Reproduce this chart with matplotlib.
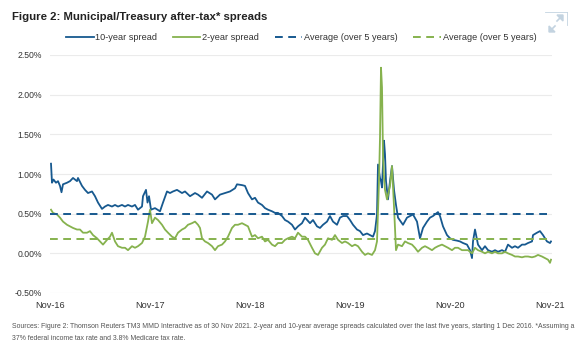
import matplotlib
matplotlib.use("Agg")
import matplotlib.pyplot as plt
from matplotlib.lines import Line2D

# time as decimal years (Nov-16 ... Nov-21), spreads in %
ten_year_t = [
    2016.925, 2016.935, 2016.950, 2016.975, 2016.995, 2017.015, 2017.030, 2017.045, 2017.085, 2017.115,
    2017.145, 2017.185, 2017.195, 2017.235, 2017.265, 2017.295, 2017.335, 2017.365, 2017.395, 2017.435,
    2017.465, 2017.495, 2017.535, 2017.565, 2017.595, 2017.635, 2017.665, 2017.695, 2017.735, 2017.765,
    2017.795, 2017.835, 2017.845, 2017.875, 2017.890, 2017.905, 2017.925, 2017.965, 2018.015, 2018.045,
    2018.085, 2018.115, 2018.145, 2018.185, 2018.235, 2018.265, 2018.315, 2018.365, 2018.395, 2018.435,
    2018.485, 2018.535, 2018.565, 2018.615, 2018.665, 2018.715, 2018.765, 2018.785, 2018.835, 2018.865,
    2018.895, 2018.935, 2018.965, 2018.995, 2019.035, 2019.065, 2019.095, 2019.135, 2019.165, 2019.195,
    2019.235, 2019.265, 2019.295, 2019.335, 2019.365, 2019.395, 2019.435, 2019.465, 2019.515, 2019.545,
    2019.585, 2019.615, 2019.645, 2019.685, 2019.715, 2019.745, 2019.785, 2019.815, 2019.845, 2019.885,
    2019.915, 2019.945, 2019.985, 2020.015, 2020.045, 2020.085, 2020.115, 2020.145, 2020.165, 2020.185,
    2020.195, 2020.215, 2020.225, 2020.235, 2020.255, 2020.265, 2020.275, 2020.295, 2020.315, 2020.335,
    2020.355, 2020.375, 2020.395, 2020.445, 2020.485, 2020.515, 2020.545, 2020.585, 2020.615, 2020.645,
    2020.685, 2020.715, 2020.745, 2020.785, 2020.795, 2020.815, 2020.845, 2020.885, 2020.915, 2020.945,
    2020.985, 2021.015, 2021.045, 2021.085, 2021.115, 2021.135, 2021.145, 2021.165, 2021.185, 2021.195,
    2021.235, 2021.265, 2021.295, 2021.335, 2021.365, 2021.395, 2021.435, 2021.465, 2021.495, 2021.535,
    2021.565, 2021.595, 2021.635, 2021.665, 2021.695, 2021.735, 2021.745, 2021.785, 2021.815, 2021.845,
    2021.885, 2021.915, 2021.925,
]
ten_year = [
    1.13, 0.89, 0.93, 0.89, 0.91, 0.85, 0.77, 0.87, 0.89, 0.91,
    0.95, 0.91, 0.95, 0.85, 0.80, 0.76, 0.78, 0.72, 0.64, 0.56,
    0.59, 0.61, 0.59, 0.61, 0.59, 0.61, 0.59, 0.61, 0.59, 0.61,
    0.55, 0.59, 0.72, 0.80, 0.64, 0.72, 0.55, 0.57, 0.53, 0.64,
    0.78, 0.76, 0.78, 0.80, 0.76, 0.78, 0.72, 0.76, 0.74, 0.70,
    0.78, 0.74, 0.68, 0.74, 0.76, 0.78, 0.82, 0.87, 0.86, 0.85,
    0.76, 0.68, 0.70, 0.64, 0.61, 0.57, 0.55, 0.53, 0.51, 0.51,
    0.47, 0.42, 0.40, 0.36, 0.30, 0.34, 0.38, 0.45, 0.38, 0.42,
    0.34, 0.32, 0.36, 0.40, 0.47, 0.40, 0.36, 0.45, 0.47, 0.47,
    0.42, 0.36, 0.30, 0.28, 0.23, 0.25, 0.23, 0.21, 0.28, 0.49,
    1.12, 0.95, 0.91, 0.83, 1.42, 1.25, 0.91, 0.68, 0.91, 1.10,
    0.80, 0.61, 0.45, 0.36, 0.45, 0.47, 0.49, 0.40, 0.19, 0.32,
    0.40, 0.45, 0.47, 0.51, 0.52, 0.47, 0.34, 0.23, 0.19, 0.17,
    0.16, 0.15, 0.13, 0.11, 0.04, -0.06, 0.15, 0.30, 0.17, 0.11,
    0.04, 0.09, 0.04, 0.02, 0.04, 0.02, 0.04, 0.02, 0.11, 0.07,
    0.09, 0.07, 0.11, 0.11, 0.13, 0.15, 0.23, 0.26, 0.28, 0.23,
    0.15, 0.13, 0.15,
]

two_year_t = [
    2016.925, 2016.945, 2016.985, 2017.015, 2017.045, 2017.085, 2017.115, 2017.145, 2017.185, 2017.215,
    2017.245, 2017.285, 2017.315, 2017.345, 2017.385, 2017.415, 2017.445, 2017.485, 2017.515, 2017.535,
    2017.565, 2017.595, 2017.635, 2017.665, 2017.695, 2017.735, 2017.765, 2017.795, 2017.835, 2017.865,
    2017.895, 2017.915, 2017.935, 2017.965, 2017.995, 2018.035, 2018.065, 2018.095, 2018.135, 2018.165,
    2018.195, 2018.235, 2018.265, 2018.295, 2018.335, 2018.365, 2018.395, 2018.415, 2018.435, 2018.465,
    2018.495, 2018.535, 2018.565, 2018.595, 2018.635, 2018.665, 2018.695, 2018.735, 2018.765, 2018.795,
    2018.835, 2018.865, 2018.895, 2018.935, 2018.965, 2018.995, 2019.035, 2019.065, 2019.095, 2019.135,
    2019.165, 2019.195, 2019.235, 2019.265, 2019.295, 2019.335, 2019.365, 2019.395, 2019.435, 2019.465,
    2019.495, 2019.535, 2019.565, 2019.595, 2019.635, 2019.665, 2019.695, 2019.735, 2019.765, 2019.795,
    2019.835, 2019.865, 2019.895, 2019.935, 2019.965, 2019.995, 2020.035, 2020.065, 2020.095, 2020.135,
    2020.165, 2020.185, 2020.195, 2020.205, 2020.215, 2020.225, 2020.235, 2020.245, 2020.255, 2020.265,
    2020.285, 2020.315, 2020.335, 2020.355, 2020.375, 2020.395, 2020.435, 2020.465, 2020.495, 2020.535,
    2020.565, 2020.595, 2020.635, 2020.665, 2020.695, 2020.735, 2020.765, 2020.795, 2020.835, 2020.865,
    2020.895, 2020.935, 2020.965, 2020.995, 2021.035, 2021.065, 2021.095, 2021.135, 2021.165, 2021.195,
    2021.235, 2021.265, 2021.295, 2021.335, 2021.365, 2021.395, 2021.435, 2021.465, 2021.495, 2021.535,
    2021.565, 2021.595, 2021.635, 2021.665, 2021.695, 2021.735, 2021.765, 2021.795, 2021.835, 2021.865,
    2021.895, 2021.915, 2021.925,
]
two_year = [
    0.55, 0.51, 0.49, 0.45, 0.40, 0.36, 0.34, 0.32, 0.30, 0.30,
    0.26, 0.26, 0.28, 0.23, 0.19, 0.15, 0.11, 0.17, 0.21, 0.26,
    0.15, 0.09, 0.07, 0.07, 0.04, 0.09, 0.07, 0.09, 0.13, 0.21,
    0.40, 0.55, 0.38, 0.45, 0.42, 0.36, 0.30, 0.26, 0.21, 0.19,
    0.26, 0.30, 0.32, 0.36, 0.38, 0.40, 0.36, 0.32, 0.19, 0.15,
    0.13, 0.09, 0.04, 0.09, 0.11, 0.15, 0.21, 0.32, 0.36, 0.36,
    0.38, 0.36, 0.34, 0.21, 0.23, 0.19, 0.21, 0.15, 0.17, 0.11,
    0.09, 0.13, 0.13, 0.17, 0.19, 0.21, 0.19, 0.26, 0.21, 0.21,
    0.17, 0.07, 0.00, -0.02, 0.07, 0.11, 0.19, 0.17, 0.23, 0.17,
    0.13, 0.15, 0.13, 0.09, 0.11, 0.09, 0.02, -0.02, 0.00, -0.02,
    0.04, 0.15, 0.51, 0.91, 1.46, 2.34, 2.09, 1.25, 0.95, 0.80,
    0.68, 0.85, 1.10, 0.59, 0.04, 0.11, 0.09, 0.15, 0.13, 0.11,
    0.07, 0.02, 0.07, 0.09, 0.07, 0.04, 0.07, 0.09, 0.11, 0.09,
    0.07, 0.04, 0.07, 0.07, 0.04, 0.04, 0.04, 0.00, 0.07, 0.04,
    0.02, 0.00, 0.02, 0.00, 0.02, 0.00, 0.00, 0.02, 0.00, -0.02,
    -0.04, -0.04, -0.05, -0.04, -0.04, -0.05, -0.04, -0.02, -0.04, -0.06,
    -0.08, -0.12, -0.08,
]

avg_ten_year = 0.50
avg_two_year = 0.18

tick_years = [2016.915, 2017.915, 2018.915, 2019.915, 2020.915, 2021.915]
tick_labels = ['Nov-16', 'Nov-17', 'Nov-18', 'Nov-19', 'Nov-20', 'Nov-21']
y_ticks = [-0.5, 0.0, 0.5, 1.0, 1.5, 2.0, 2.5]

blue = '#17598f'
green = '#86b24e'

plt.rcParams['font.family'] = ['Liberation Sans', 'DejaVu Sans']

fig = plt.figure(figsize=(5.75, 3.5), dpi=100)
ax = fig.add_axes([50 / 575, 1 - 293 / 350, 502 / 575, 238 / 350])

ax.plot(ten_year_t, ten_year, color=blue, lw=1.3, label='10-year spread')
ax.plot(two_year_t, two_year, color=green, lw=1.3, label='2-year spread')
ax.axhline(avg_ten_year, color=blue, lw=1.4, ls=(0, (4, 2.8)), label='Average (over 5 years)')
ax.axhline(avg_two_year, color=green, lw=1.4, ls=(0, (4, 2.8)), label='Average (over 5 years)')

ax.set_xlim(2016.915, 2021.935)
ax.set_ylim(-0.5, 2.5)
ax.set_yticks(y_ticks)
ax.set_yticklabels(['%.2f%%' % v for v in y_ticks], fontsize=6.2, color='#333333')
ax.set_xticks(tick_years)
ax.set_xticklabels(tick_labels, fontsize=6.6, color='#333333')
ax.tick_params(axis='both', length=0)
ax.tick_params(axis='y', pad=6)
ax.tick_params(axis='x', pad=6)
ax.grid(True, axis='y', color='#ebebeb', lw=0.8)
ax.set_axisbelow(True)
for s in ax.spines.values():
    s.set_visible(False)

fig.text(12 / 575, 1 - 17 / 350, 'Figure 2: Municipal/Treasury after-tax* spreads',
         fontsize=8.2, fontweight='bold', color='#222222', va='center')

fig.legend(loc='center left', bbox_to_anchor=(66 / 575, 1 - 38 / 350), ncol=4, frameon=False,
           fontsize=6.6, handlelength=3.0, handletextpad=0.2, columnspacing=1.7,
           borderpad=0, borderaxespad=0, labelcolor='#333333')

fig.text(12 / 575, 1 - 327 / 350,
         'Sources: Figure 2: Thomson Reuters TM3 MMD Interactive as of 30 Nov 2021. 2-year and 10-year average '
         'spreads calculated over the last five years, starting 1 Dec 2016. *Assuming a',
         fontsize=4.95, color='#555555', va='center')
fig.text(12 / 575, 1 - 339 / 350, '37% federal income tax rate and 3.8% Medicare tax rate.',
         fontsize=4.95, color='#555555', va='center')

# expand icon, top right
icon = '#c3d3e0'
fig.add_artist(Line2D([545 / 575, 567 / 575], [1 - 12 / 350, 1 - 12 / 350], color=icon, lw=0.6))
fig.add_artist(Line2D([567 / 575, 567 / 575], [1 - 12 / 350, 1 - 25 / 350], color=icon, lw=0.6))
fig.patches.append(plt.Polygon([[563, 350 - 15], [557, 350 - 15], [563, 350 - 21]],
                               closed=True, color=icon, transform=None))
fig.add_artist(Line2D([557 / 575, 561 / 575], [1 - 21 / 350, 1 - 17 / 350], color=icon, lw=1.2))
fig.patches.append(plt.Polygon([[549, 350 - 32], [555, 350 - 32], [549, 350 - 26]],
                               closed=True, color=icon, transform=None))
fig.add_artist(Line2D([551 / 575, 555 / 575], [1 - 30 / 350, 1 - 26 / 350], color=icon, lw=1.2))

plt.savefig('out.png', dpi=100)
plt.close()
